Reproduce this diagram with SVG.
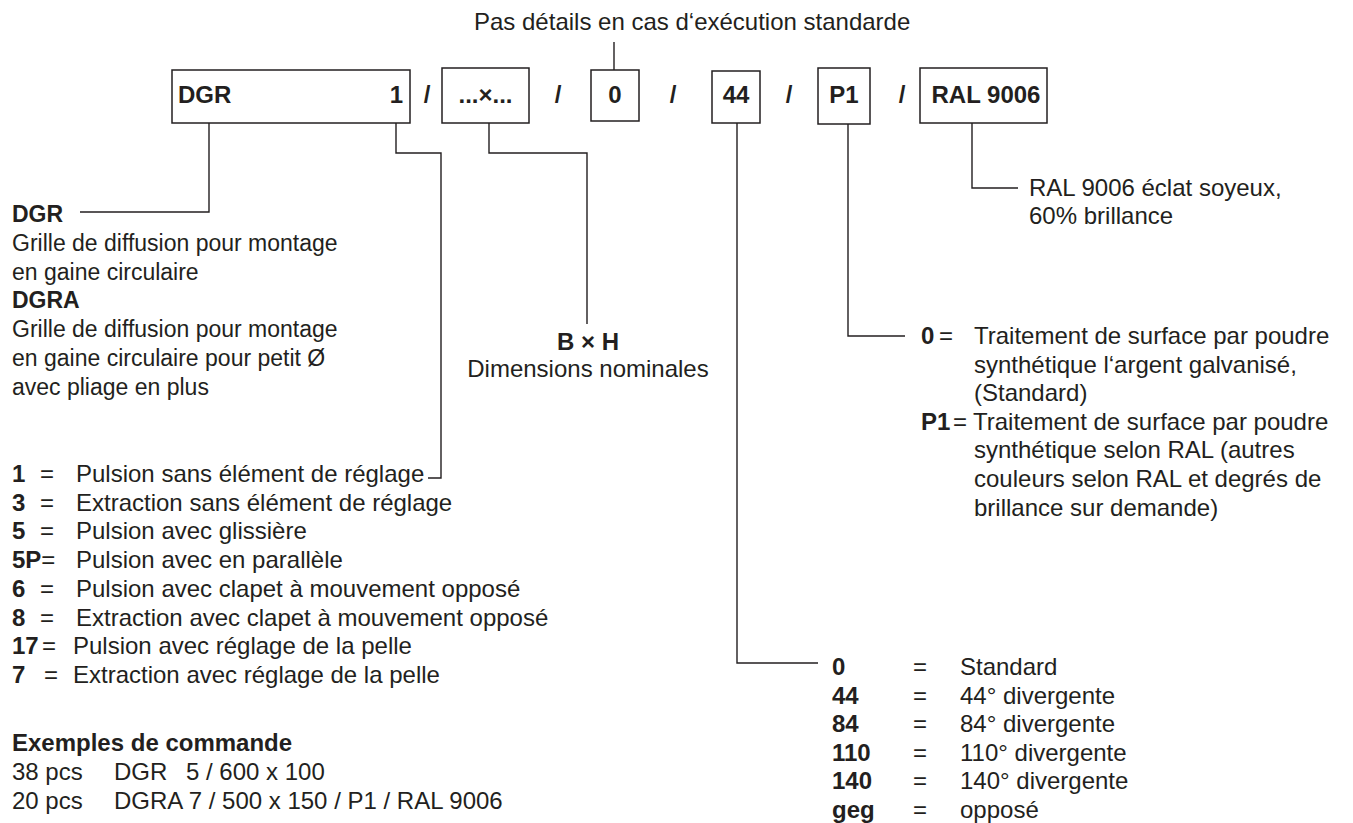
<svg xmlns="http://www.w3.org/2000/svg" width="1353" height="823" viewBox="0 0 1353 823">
<style>
text{font-family:"Liberation Sans",Arial,Helvetica,sans-serif;font-size:24px;fill:#231f20}
.s{font-size:23px}
.b{font-weight:bold}
.m{text-anchor:middle}
.e{text-anchor:end}
.ln{fill:none;stroke:#231f20;stroke-width:1.4}
.box{fill:#fff;stroke:#231f20;stroke-width:1.5}
</style>
<rect width="1353" height="823" fill="#fff"/>
<g id="connectors">
<path class="ln" d="M614 42V70"/>
<path class="ln" d="M209 123V212H80"/>
<path class="ln" d="M396 123V153H441V478H428"/>
<path class="ln" d="M489 123V153H587V324"/>
<path class="ln" d="M737 123V663H818"/>
<path class="ln" d="M848 124V336H905"/>
<path class="ln" d="M972 123V188H1018"/>
</g>
<g id="header">
<text x="474" y="30">Pas détails en cas d‘exécution standarde</text>
</g>
<g id="code">
<g id="box-dgr"><rect class="box" x="172" y="70" width="238" height="53"/><text class="b" x="178" y="103">DGR</text><text class="b e" x="403" y="103">1</text></g>
<text class="b m" x="427" y="103">/</text>
<g id="box-dim"><rect class="box" x="442" y="68" width="87" height="55"/><text class="b m" x="485.5" y="103">...×...</text></g>
<text class="b m" x="558" y="103">/</text>
<g id="box-0"><rect class="box" x="591" y="70" width="48" height="51"/><text class="b m" x="615" y="103">0</text></g>
<text class="b m" x="673" y="103">/</text>
<g id="box-44"><rect class="box" x="712" y="71" width="48" height="52"/><text class="b m" x="736" y="103">44</text></g>
<text class="b m" x="789" y="103">/</text>
<g id="box-p1"><rect class="box" x="818" y="68" width="52" height="56"/><text class="b m" x="844" y="103">P1</text></g>
<text class="b m" x="902" y="103">/</text>
<g id="box-ral"><rect class="box" x="920" y="68" width="127" height="55"/><text class="b m" x="986" y="103">RAL 9006</text></g>
</g>
<g id="type-desc">
<text class="b s" x="12" y="222">DGR</text>
<text class="s" x="12" y="251">Grille de diffusion pour montage</text>
<text class="s" x="12" y="280">en gaine circulaire</text>
<text class="b s" x="12" y="308">DGRA</text>
<text class="s" x="12" y="337">Grille de diffusion pour montage</text>
<text class="s" x="12" y="366">en gaine circulaire pour petit Ø</text>
<text class="s" x="12" y="395">avec pliage en plus</text>
</g>
<g id="variant-desc">
<text x="12" y="482"><tspan class="b">1</tspan><tspan x="40">=</tspan><tspan x="76">Pulsion sans élément de réglage</tspan></text>
<text x="12" y="511"><tspan class="b">3</tspan><tspan x="40">=</tspan><tspan x="76">Extraction sans élément de réglage</tspan></text>
<text x="12" y="539"><tspan class="b">5</tspan><tspan x="40">=</tspan><tspan x="76">Pulsion avec glissière</tspan></text>
<text x="12" y="568"><tspan class="b">5P</tspan><tspan>=</tspan><tspan x="76">Pulsion avec en parallèle</tspan></text>
<text x="12" y="597"><tspan class="b">6</tspan><tspan x="40">=</tspan><tspan x="76">Pulsion avec clapet à mouvement opposé</tspan></text>
<text x="12" y="626"><tspan class="b">8</tspan><tspan x="40">=</tspan><tspan x="76">Extraction avec clapet à mouvement opposé</tspan></text>
<text x="12" y="654"><tspan class="b">17</tspan><tspan x="42">=</tspan><tspan x="73">Pulsion avec réglage de la pelle</tspan></text>
<text x="12" y="683"><tspan class="b">7</tspan><tspan x="44">=</tspan><tspan x="73">Extraction avec réglage de la pelle</tspan></text>
</g>
<g id="examples">
<text class="b" x="12" y="751">Exemples de commande</text>
<text x="12" y="780">38 pcs<tspan x="114">DGR</tspan><tspan x="186">5 / 600 x 100</tspan></text>
<text x="12" y="809">20 pcs<tspan x="114">DGRA 7 / 500 x 150 / P1 / RAL 9006</tspan></text>
</g>
<g id="dim-desc">
<text class="b m" x="588" y="350">B × H</text>
<text class="m" x="588" y="377">Dimensions nominales</text>
</g>
<g id="ral-desc">
<text x="1029" y="196">RAL 9006 éclat soyeux,</text>
<text x="1029" y="224">60% brillance</text>
</g>
<g id="surface-desc">
<text x="921" y="344"><tspan class="b">0</tspan><tspan x="939">=</tspan><tspan x="974">Traitement de surface par poudre</tspan></text>
<text x="974" y="373">synthétique l‘argent galvanisé,</text>
<text x="974" y="401">(Standard)</text>
<text x="921" y="430"><tspan class="b">P1</tspan><tspan x="953">=</tspan><tspan x="973">Traitement de surface par poudre</tspan></text>
<text x="974" y="458">synthétique selon RAL (autres</text>
<text x="974" y="487">couleurs selon RAL et degrés de</text>
<text x="974" y="516">brillance sur demande)</text>
</g>
<g id="angle-desc">
<text x="832" y="675"><tspan class="b">0</tspan><tspan x="913">=</tspan><tspan x="960">Standard</tspan></text>
<text x="832" y="704"><tspan class="b">44</tspan><tspan x="913">=</tspan><tspan x="960">44° divergente</tspan></text>
<text x="832" y="732"><tspan class="b">84</tspan><tspan x="913">=</tspan><tspan x="960">84° divergente</tspan></text>
<text x="832" y="761"><tspan class="b">110</tspan><tspan x="913">=</tspan><tspan x="960">110° divergente</tspan></text>
<text x="832" y="789"><tspan class="b">140</tspan><tspan x="913">=</tspan><tspan x="960">140° divergente</tspan></text>
<text x="832" y="818"><tspan class="b">geg</tspan><tspan x="913">=</tspan><tspan x="960">opposé</tspan></text>
</g>
</svg>
